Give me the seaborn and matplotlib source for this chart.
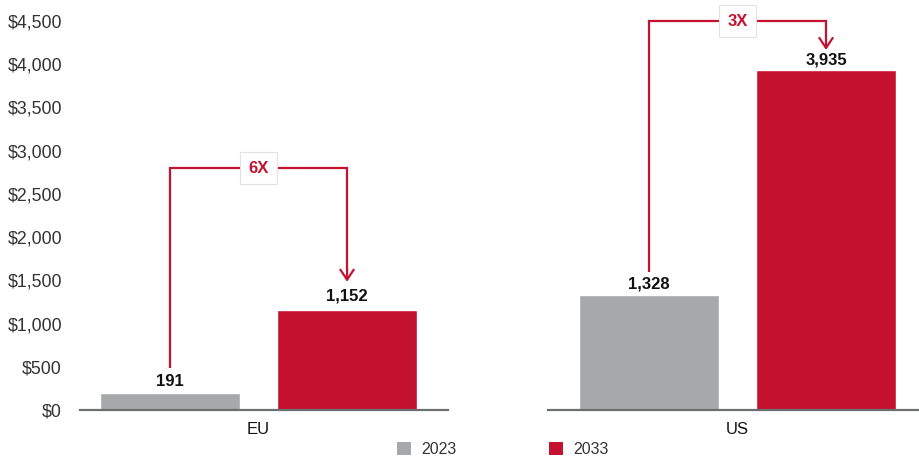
import matplotlib
matplotlib.use("Agg")
import matplotlib.pyplot as plt
from matplotlib.patches import Patch
import seaborn as sns
import pandas as pd

# Market size by region, 2023 vs 2033 (USD)
regions = ["EU", "US"]
years = ["2023", "2033"]
values_2023 = [191, 1328]
values_2033 = [1152, 3935]
growth_labels = ["6X", "3X"]
y_ticks = [0, 500, 1000, 1500, 2000, 2500, 3000, 3500, 4000, 4500]

GRAY = "#A7A8AA"
RED = "#C41230"
AXIS = "#6D6E70"
TEXT = "#333333"

sns.set_theme(style="white")
plt.rcParams["font.family"] = ["Liberation Sans", "DejaVu Sans"]

df = pd.DataFrame({
    "region": [r for r in regions for _ in years],
    "year": years * len(regions),
    "value": [v for pair in zip(values_2023, values_2033) for v in pair],
})
palette = {"2023": GRAY, "2033": RED}

fig = plt.figure(figsize=(9.19, 4.57), dpi=100)
ax_pos = {
    "EU": [80 / 919, 47 / 457, 368 / 919, 389 / 457],
    "US": [548 / 919, 47 / 457, 371 / 919, 389 / 457],
}
xlims = {"EU": (-0.508, 1.57), "US": (-0.57, 1.525)}
# bracket geometry: (start y above first bar, top y, arrow tip y)
brackets = {"EU": (486, 2796, 1484), "US": (1600, 4500, 4165)}
label_offsets = {"EU": (3.5, 5), "US": (2.5, 2)}

for i, region in enumerate(regions):
    ax = fig.add_axes(ax_pos[region])
    sub = df[df["region"] == region]
    sns.barplot(data=sub, x="year", y="value", hue="year", palette=palette,
                order=years, hue_order=years, width=0.79, dodge=False,
                legend=False, ax=ax, saturation=1)
    ax.set_ylim(0, 4500)
    ax.set_xlim(*xlims[region])
    for s in ["top", "right", "left"]:
        ax.spines[s].set_visible(False)
    ax.spines["bottom"].set_color(AXIS)
    ax.spines["bottom"].set_linewidth(1.6)
    ax.set_xticks([])
    ax.set_xlabel("")
    ax.set_ylabel("")
    if i == 0:
        ax.set_yticks(y_ticks)
        ax.set_yticklabels([f"${v:,}" for v in y_ticks], fontsize=12.8, color=TEXT)
        ax.tick_params(axis="y", length=0, pad=13)
    else:
        ax.set_yticks([])
    ax.text(0.5, -0.032, region, transform=ax.get_xaxis_transform(),
            ha="center", va="top", fontsize=12, color="#111111")

    # value labels
    vals = sub["value"].tolist()
    for j, v in enumerate(vals):
        ax.annotate(f"{v:,}", xy=(j, v), xytext=(0, label_offsets[region][j]),
                    textcoords="offset points", ha="center", va="bottom",
                    fontsize=12, fontweight="bold", color="#111111")

    # growth bracket with arrow
    y0, ytop, ytip = brackets[region]
    ax.plot([0, 0, 1, 1], [y0, ytop, ytop, ytip + 150], color=RED, lw=1.6,
            clip_on=False, solid_capstyle="butt", solid_joinstyle="miter")
    ax.annotate("", xy=(1, ytip), xytext=(1, ytip + 160),
                arrowprops=dict(arrowstyle="->,head_width=0.4,head_length=0.6",
                                color=RED, lw=1.6, shrinkA=0, shrinkB=0),
                annotation_clip=False)
    ax.text(0.5, ytop, growth_labels[i], ha="center", va="center",
            fontsize=12, fontweight="bold", color=RED, clip_on=False,
            bbox=dict(boxstyle="square,pad=0.5", facecolor="white",
                      edgecolor="#E2E2E2", lw=0.8))

handles = [Patch(facecolor=palette[y], edgecolor="none") for y in years]
fig.legend(handles, years, loc="center", bbox_to_anchor=(0.547, 0.016),
           ncol=2, frameon=False, fontsize=11.5, handlelength=0.9,
           handleheight=0.9, handletextpad=0.6, columnspacing=5.8,
           labelcolor=TEXT)

fig.savefig("out.png", dpi=100)
